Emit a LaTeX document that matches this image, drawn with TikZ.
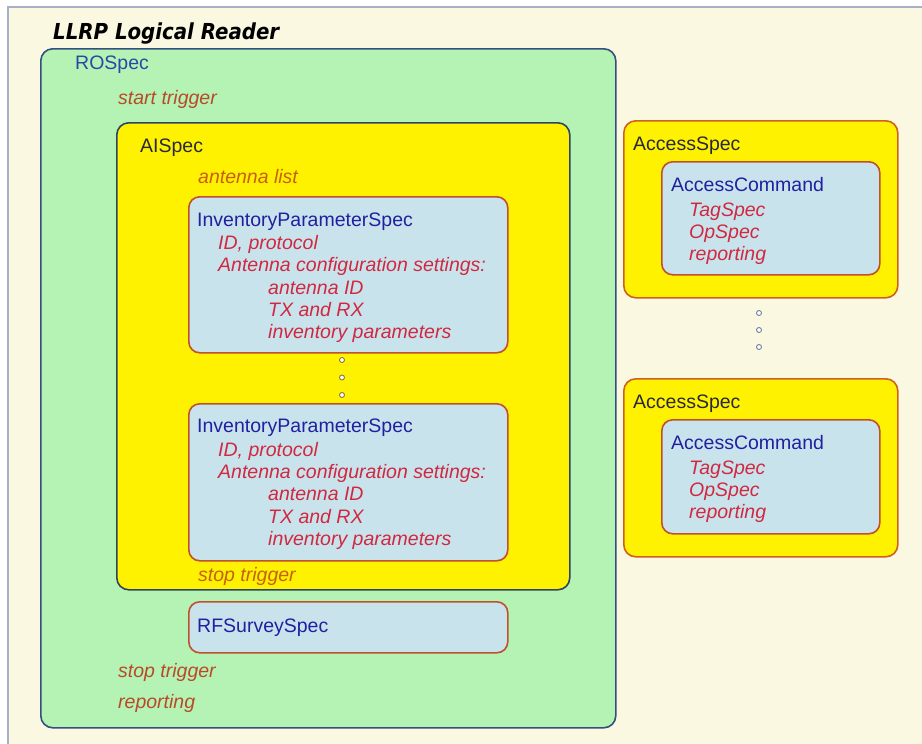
\documentclass[tikz,border=0pt]{standalone}
\usepackage{fontspec}
\setmainfont{Liberation Sans}
\newfontfamily\titlefont{DejaVu Sans Condensed}
\definecolor{cream}{HTML}{FBF8E2}
\definecolor{frameline}{HTML}{A8B0C8}
\definecolor{rogreen}{HTML}{B5F3B5}
\definecolor{roborder}{HTML}{34507E}
\definecolor{aiborder}{HTML}{2E4560}
\definecolor{specblue}{HTML}{C9E3EC}
\definecolor{ipsborder}{HTML}{C05030}
\definecolor{asborder}{HTML}{D06020}
\definecolor{rotext}{HTML}{2848A8}
\definecolor{brownred}{HTML}{B84A28}
\definecolor{darktext}{HTML}{282838}
\definecolor{orangetext}{HTML}{C86010}
\definecolor{navytext}{HTML}{2020A0}
\definecolor{crimson}{HTML}{D02840}
\definecolor{dotline}{HTML}{7080A0}
\definecolor{dotline2}{HTML}{907840}
\tikzset{
  x=1pt, y=-1pt,
  txt/.style={anchor=base west, inner sep=0pt, font=\fontsize{19.5}{22}\selectfont},
  itx/.style={txt, font=\fontsize{19.5}{22}\selectfont\itshape},
  boxbase/.style={anchor=north west, rounded corners=12pt, line width=1.6pt, inner sep=0pt},
  rospecbox/.style={boxbase, fill=rogreen, draw=roborder},
  aispecbox/.style={boxbase, fill=yellow, draw=aiborder},
  ipsbox/.style={boxbase, rounded corners=11pt, fill=specblue, draw=ipsborder},
  asbox/.style={boxbase, fill=yellow, draw=asborder},
  ringdot/.style={circle, draw=#1, fill=white, line width=0.9pt, minimum size=5pt, inner sep=0pt},
}
\begin{document}
\begin{tikzpicture}
\useasboundingbox (0,0) rectangle (922,744);
% background
\fill[white] (0,0) rectangle (922,744);
\fill[cream] (8,7) rectangle (922,744);
\draw[frameline, line width=1.2pt] (8,744) -- (8,7) -- (922,7);

% title
\node[anchor=base west, inner sep=0pt, font=\titlefont\fontsize{22}{24}\selectfont\bfseries\itshape] (title) at (53,39) {LLRP Logical Reader};

% ROSpec
\node[rospecbox, minimum width=575pt, minimum height=679pt] (rospec) at (40,48) {};
\node[txt, text=rotext] (rolabel) at (75,69) {ROSpec};
\node[itx, text=brownred] (rostart) at (118,104) {start trigger};

% AISpec
\node[aispecbox, minimum width=453pt, minimum height=467pt] (aispec) at (116,122) {};
\node[txt, text=darktext] (ailabel) at (140,152) {AISpec};
\node[itx, text=orangetext] (antlist) at (198,183) {antenna list};

% InventoryParameterSpec 1
\node[ipsbox, minimum width=319pt, minimum height=156pt] (ips1) at (188,196) {};
\node[txt, text=navytext] (ips1t) at (197,226) {InventoryParameterSpec};
\node[itx, text=crimson] (ips1a) at (218,249.5) {ID, protocol};
\node[itx, text=crimson] (ips1b) at (218,271.8) {Antenna configuration settings:};
\node[itx, text=crimson] (ips1c) at (268,294.1) {antenna ID};
\node[itx, text=crimson] (ips1d) at (268,316.4) {TX and RX};
\node[itx, text=crimson] (ips1e) at (268,338.7) {inventory parameters};

% dots
\node[ringdot=dotline2] (d1) at (342,360) {};
\node[ringdot=dotline2] (d2) at (342,377.5) {};
\node[ringdot=dotline2] (d3) at (342,395) {};

% InventoryParameterSpec 2
\node[ipsbox, minimum width=319pt, minimum height=157pt] (ips2) at (188,403) {};
\node[txt, text=navytext] (ips2t) at (197,432.7) {InventoryParameterSpec};
\node[itx, text=crimson] (ips2a) at (218,456.2) {ID, protocol};
\node[itx, text=crimson] (ips2b) at (218,478.5) {Antenna configuration settings:};
\node[itx, text=crimson] (ips2c) at (268,500.8) {antenna ID};
\node[itx, text=crimson] (ips2d) at (268,523.1) {TX and RX};
\node[itx, text=crimson] (ips2e) at (268,545.4) {inventory parameters};

\node[itx, text=orangetext] (aistop) at (198,581.5) {stop trigger};

% RFSurveySpec
\node[ipsbox, minimum width=319pt, minimum height=51pt] (rfs) at (188,601) {};
\node[txt, text=navytext] (rfst) at (197,632) {RFSurveySpec};

\node[itx, text=brownred] (rostop) at (118,677) {stop trigger};
\node[itx, text=brownred] (rorep) at (118,708) {reporting};

% AccessSpec 1
\node[asbox, minimum width=274pt, minimum height=177pt] (as1) at (623,120) {};
\node[txt, text=darktext] (as1t) at (633,150.7) {AccessSpec};
\node[ipsbox, minimum width=218pt, minimum height=113pt] (ac1) at (661,161) {};
\node[txt, text=navytext] (ac1t) at (671,191) {AccessCommand};
\node[itx, text=crimson] (ac1a) at (689,216) {TagSpec};
\node[itx, text=crimson] (ac1b) at (689,238.3) {OpSpec};
\node[itx, text=crimson] (ac1c) at (689,260.6) {reporting};

% dots
\node[ringdot=dotline] (e1) at (759,313) {};
\node[ringdot=dotline] (e2) at (759,330) {};
\node[ringdot=dotline] (e3) at (759,347) {};

% AccessSpec 2
\node[asbox, minimum width=274pt, minimum height=178pt] (as2) at (623,378) {};
\node[txt, text=darktext] (as2t) at (633,408.7) {AccessSpec};
\node[ipsbox, minimum width=218pt, minimum height=114pt] (ac2) at (661,419) {};
\node[txt, text=navytext] (ac2t) at (671,449) {AccessCommand};
\node[itx, text=crimson] (ac2a) at (689,474) {TagSpec};
\node[itx, text=crimson] (ac2b) at (689,496.3) {OpSpec};
\node[itx, text=crimson] (ac2c) at (689,518.6) {reporting};
\end{tikzpicture}
\end{document}
